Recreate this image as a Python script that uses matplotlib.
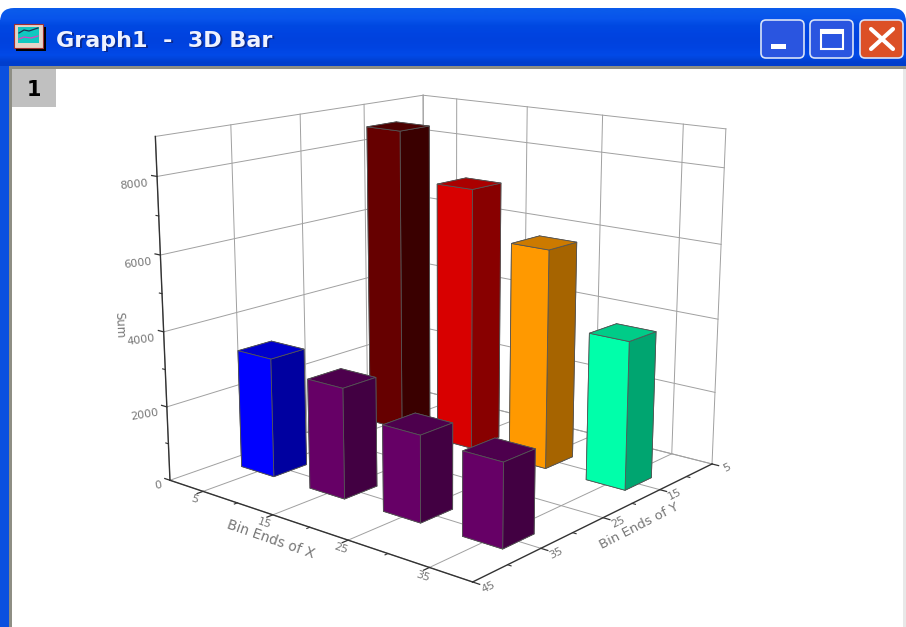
import numpy as np
import matplotlib
matplotlib.use("Agg")
import matplotlib.pyplot as plt
from matplotlib.patches import Rectangle, FancyBboxPatch
from mpl_toolkits.mplot3d import Axes3D  # noqa: F401

# bins along x and y, one bar per x bin in each y row
x_bins = [5, 15, 25, 35]
y_rows = [15, 35]
back_sums = [8500, 7200, 5930, 3950]
front_sums = [3200, 2920, 2250, 2150]

back_lit = ["#660000", "#d80000", "#ff9900", "#00ffaa"]
back_dark = ["#3a0000", "#880000", "#a66400", "#00a570"]
back_top = ["#4d0000", "#aa0000", "#cc7a00", "#00cc88"]
front_lit = ["#0000ff", "#660066", "#660066", "#660066"]
front_dark = ["#0000a0", "#420042", "#420042", "#420042"]
front_top = ["#0000cc", "#4d004d", "#4d004d", "#4d004d"]

x_ticks = [5, 15, 25, 35]
y_ticks = [5, 15, 25, 35, 45]
z_ticks = [0, 2000, 4000, 6000, 8000]
x_minor = [10, 20, 30]
y_minor = [10, 20, 30, 40]
z_minor = [1000, 3000, 5000, 7000]
x_min, x_max = 0, 40
y_near, y_far = 45, 5
z_min, z_max = 0, 9000
bar_w = 4.8

grid_c = "#a0a0a0"
axis_c = "#333333"
text_c = "#777777"

fig = plt.figure(figsize=(9.06, 6.27), dpi=100, facecolor="white")
ax = fig.add_axes([-0.035, -0.0796, 1.03, 1.15], projection="3d", computed_zorder=False)
ax.set_proj_type("persp", focal_length=0.44)
ax.view_init(elev=14.5, azim=-50)
ax.set_box_aspect((1, 1, 0.888), zoom=0.887)
ax.set_xlim(x_min, x_max)
ax.set_ylim(y_near, y_far)
ax.set_zlim(z_min, z_max)
ax.set_axis_off()
ax.patch.set_alpha(0)


def line3d(xs, ys, zs, c=grid_c, lw=0.7, z=1):
    ax.plot(xs, ys, zs, color=c, lw=lw, zorder=z, clip_on=False)


# floor and wall grids
for xv in x_ticks:
    line3d([xv, xv], [y_near, y_far], [z_min, z_min])
    line3d([xv, xv], [y_far, y_far], [z_min, z_max])
for yv in y_ticks:
    line3d([x_min, x_max], [yv, yv], [z_min, z_min])
    line3d([x_min, x_min], [yv, yv], [z_min, z_max])
for zv in z_ticks[1:]:
    line3d([x_min, x_min], [y_near, y_far], [zv, zv])
    line3d([x_min, x_max], [y_far, y_far], [zv, zv])

# box outline
line3d([x_min, x_max], [y_far, y_far], [z_min, z_min])
line3d([x_min, x_max], [y_far, y_far], [z_max, z_max])
line3d([x_min, x_min], [y_near, y_far], [z_min, z_min])
line3d([x_min, x_min], [y_near, y_far], [z_max, z_max])
line3d([x_min, x_min], [y_far, y_far], [z_min, z_max])
line3d([x_max, x_max], [y_far, y_far], [z_min, z_max])

# main axes
line3d([x_min, x_max], [y_near, y_near], [z_min, z_min], axis_c, 1.0, 2)
line3d([x_max, x_max], [y_near, y_far], [z_min, z_min], axis_c, 1.0, 2)
line3d([x_min, x_min], [y_near, y_near], [z_min, z_max], axis_c, 1.0, 2)

# tick marks
for xv in x_ticks:
    line3d([xv, xv], [y_near, y_near + 0.8], [z_min, z_min], axis_c, 0.9, 2)
for xv in x_minor:
    line3d([xv, xv], [y_near, y_near + 0.4], [z_min, z_min], axis_c, 0.8, 2)
for yv in y_ticks:
    line3d([x_max, x_max + 0.8], [yv, yv], [z_min, z_min], axis_c, 0.9, 2)
for yv in y_minor:
    line3d([x_max, x_max + 0.4], [yv, yv], [z_min, z_min], axis_c, 0.8, 2)
for zv in z_ticks:
    line3d([x_min, x_min - 0.8], [y_near, y_near], [zv, zv], axis_c, 0.9, 2)
for zv in z_minor:
    line3d([x_min, x_min - 0.4], [y_near, y_near], [zv, zv], axis_c, 0.8, 2)

# bars, far row first, each one left to right so nearer bars paint over
order = 3
rows = [
    (y_rows[0], back_sums, back_lit, back_dark, back_top),
    (y_rows[1], front_sums, front_lit, front_dark, front_top),
]
for yv, sums, lit, dark, top in rows:
    for xv, s, cl, cd, ct in zip(x_bins, sums, lit, dark, top):
        # faces: -z, +z, -y, +y, -x, +x
        faces = [ct, ct, cl, cl, cd, cd]
        ax.bar3d(xv - bar_w / 2, yv - bar_w / 2, 0, bar_w, bar_w, s,
                 color=faces, shade=False, edgecolor="#555555", linewidth=0.6,
                 zorder=order)
        order += 1

# tick labels and axis titles, zdir sets the baseline direction of 3D text
for xv in x_ticks:
    ax.text(xv + 0.9, y_near + 2.0, z_min, str(xv), zdir="x", size=8, color=text_c,
            ha="center", va="center", zorder=50)
for yv in y_ticks:
    ax.text(x_max + 1.8, yv, z_min, str(yv), zdir="y", size=8, color=text_c,
            ha="center", va="center", zorder=50)
for zv in z_ticks:
    ax.text(x_min - 1.4, y_near, zv - 220, str(zv), zdir=(0.35, -1, 0), size=8,
            color=text_c, ha="right", va="center", rotation_mode="anchor", zorder=50)
ax.text(x_min - 6.9, y_near, 3880, "Sum", zdir="z", size=8.5, color=text_c,
        ha="center", va="center", zorder=50)
ax.text(19.4, y_near + 4.6, z_min, "Bin Ends of X", zdir="x", size=10, color=text_c,
        ha="center", va="center", zorder=50)
ax.text(x_max + 3.9, 24.6, z_min, "Bin Ends of Y", zdir="y", size=9.5, color=text_c,
        ha="center", va="center", zorder=50)

# window frame on a pixel-space overlay
win = fig.add_axes([0, 0, 1, 1], zorder=10)
win.patch.set_alpha(0)
win.set_axis_off()

win.add_patch(Rectangle((0, 20), 10, 607, fc="#0a50e0", ec="none"))
win.add_patch(Rectangle((903, 66), 3, 561, fc="#e8e8e8", ec="none"))
bar_shape = FancyBboxPatch((0, 8), 906, 120, boxstyle="round,pad=0,rounding_size=14",
                           fc="none", ec="none")
win.add_patch(bar_shape)
shades = np.array([[10, 90, 235], [8, 84, 235], [0, 72, 225], [0, 68, 225],
                   [0, 66, 222], [0, 68, 226], [2, 74, 232], [0, 62, 205]]) / 255.0
img = win.imshow(shades[:, None, :], extent=(0, 906, 66, 8), aspect="auto",
                 interpolation="bilinear", zorder=1)
img.set_clip_path(bar_shape)
win.add_patch(Rectangle((9, 66), 897, 3, fc="#8e8e84", ec="none", zorder=2))
win.add_patch(Rectangle((9, 66), 3, 561, fc="#8e8e84", ec="none", zorder=2))
win.add_patch(Rectangle((12, 69), 44, 38, fc="#c0c0c0", ec="none", zorder=2))
win.text(34, 90, "1", size=15, weight="bold", color="black",
         ha="center", va="center", zorder=3)

# title
win.text(57.5, 42.5, "Graph1  -  3D Bar", size=16, weight="bold", color="#0a2a90",
         ha="left", va="center", zorder=3)
win.text(56, 41, "Graph1  -  3D Bar", size=16, weight="bold", color="#eef2ff",
         ha="left", va="center", zorder=4)

# graph icon
win.add_patch(Rectangle((16, 27), 30, 24, fc="black", ec="none", zorder=3))
win.add_patch(Rectangle((14, 24), 29, 24, fc="#e4d4c8", ec="#a03030", lw=0.8, zorder=4))
win.add_patch(Rectangle((18, 27), 21, 16, fc="#10c8c0", ec="none", zorder=5))
win.plot([19, 24, 29, 38], [33, 30, 31, 28], color="#203050", lw=0.9, zorder=6)
win.plot([19, 24, 31, 38], [39, 37, 38, 36], color="#e040c0", lw=0.9, zorder=6)

# window buttons
for bx, bw, fc in [(761, 43, "#2a55e0"), (810, 43, "#2a55e0"), (860, 43, "#dc5026")]:
    win.add_patch(FancyBboxPatch((bx, 20), bw, 38, boxstyle="round,pad=0,rounding_size=5",
                                 fc=fc, ec="#d8e2f8", lw=1.2, zorder=3))
win.add_patch(Rectangle((771, 44), 15, 5, fc="white", ec="none", zorder=4))
win.add_patch(Rectangle((821, 30), 22, 19, fc="none", ec="white", lw=1.5, zorder=4))
win.add_patch(Rectangle((821, 29), 22, 5, fc="white", ec="none", zorder=4))
win.plot([871, 893], [29, 49], color="white", lw=3, zorder=4, solid_capstyle="round")
win.plot([893, 871], [29, 49], color="white", lw=3, zorder=4, solid_capstyle="round")

win.set_xlim(0, 906)
win.set_ylim(627, 0)

fig.savefig("out.png", dpi=100, facecolor="white")
